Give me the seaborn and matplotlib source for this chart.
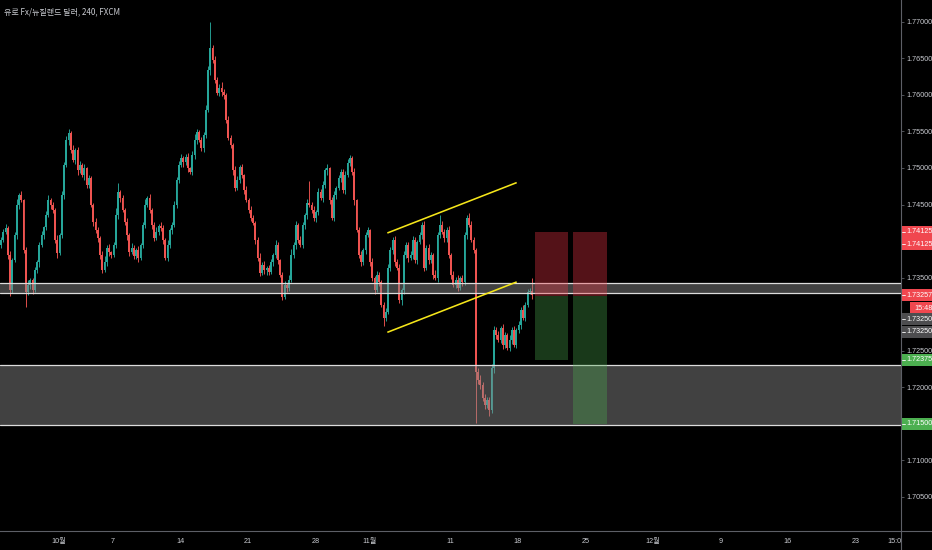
import numpy as np
import pandas as pd
import matplotlib
matplotlib.use("Agg")
import matplotlib.pyplot as plt
from matplotlib.patches import Rectangle
from matplotlib.lines import Line2D
import seaborn as sns

# ---------------- data ----------------
TITLE = "유로 Fx/뉴질랜드 달러, 240, FXCM"

first_open = 1.7395
closes = [
    1.7402, 1.7413, 1.7418, 1.7381, 1.7333, 1.7374, 1.7408, 1.7450, 1.7463, 1.7456,
    1.7388, 1.7330, 1.7340, 1.7347, 1.7333, 1.7360, 1.7371, 1.7395, 1.7408, 1.7419,
    1.7436, 1.7456, 1.7450, 1.7443, 1.7402, 1.7384, 1.7408, 1.7463, 1.7504, 1.7538,
    1.7548, 1.7525, 1.7511, 1.7525, 1.7497, 1.7504, 1.7490, 1.7500, 1.7477, 1.7486,
    1.7450, 1.7426, 1.7415, 1.7404, 1.7381, 1.7360, 1.7371, 1.7391, 1.7385, 1.7381,
    1.7395, 1.7436, 1.7467, 1.7459, 1.7443, 1.7426, 1.7408, 1.7385, 1.7391, 1.7380,
    1.7388, 1.7377, 1.7395, 1.7422, 1.7450, 1.7459, 1.7443, 1.7422, 1.7404, 1.7413,
    1.7421, 1.7418, 1.7402, 1.7377, 1.7395, 1.7415, 1.7422, 1.7450, 1.7484, 1.7504,
    1.7514, 1.7508, 1.7515, 1.7500, 1.7495, 1.7518, 1.7538, 1.7549, 1.7538, 1.7527,
    1.7545, 1.7580, 1.7634, 1.7664, 1.7648, 1.7621, 1.7603, 1.7610, 1.7604, 1.7600,
    1.7566, 1.7541, 1.7532, 1.7497, 1.7473, 1.7484, 1.7501, 1.7490, 1.7470, 1.7456,
    1.7443, 1.7432, 1.7425, 1.7402, 1.7377, 1.7356, 1.7367, 1.7360, 1.7363, 1.7358,
    1.7371, 1.7381, 1.7395, 1.7374, 1.7354, 1.7324, 1.7340, 1.7336, 1.7347, 1.7381,
    1.7395, 1.7422, 1.7402, 1.7395, 1.7422, 1.7436, 1.7452, 1.7450, 1.7443, 1.7432,
    1.7440, 1.7467, 1.7459, 1.7477, 1.7497, 1.7500, 1.7456, 1.7432, 1.7463, 1.7473,
    1.7486, 1.7495, 1.7470, 1.7490, 1.7507, 1.7514, 1.7495, 1.7456, 1.7415, 1.7381,
    1.7371, 1.7388, 1.7408, 1.7415, 1.7371, 1.7349, 1.7333, 1.7354, 1.7344, 1.7313,
    1.7295, 1.7303, 1.7363, 1.7388, 1.7402, 1.7371, 1.7363, 1.7319, 1.7333, 1.7381,
    1.7395, 1.7377, 1.7381, 1.7402, 1.7374, 1.7399, 1.7408, 1.7422, 1.7363, 1.7391,
    1.7374, 1.7381, 1.7354, 1.7349, 1.7408, 1.7422, 1.7413, 1.7404, 1.7415, 1.7381,
    1.7354, 1.7340, 1.7347, 1.7336, 1.7349, 1.7344, 1.7408, 1.7432, 1.7422, 1.7402,
    1.7388, 1.7221, 1.7210, 1.7203, 1.7185, 1.7176, 1.7183, 1.7169, 1.7226, 1.7278,
    1.7271, 1.7265, 1.7281, 1.7258, 1.7271, 1.7254, 1.7265, 1.7278, 1.7258, 1.7278,
    1.7285, 1.7306, 1.7295, 1.7313, 1.7330, 1.7332, 1.7326,
]
upper_wick_pips = [
    4, 3, 6, 2, 5, 3, 4, 8, 3, 5,
    2, 4, 6, 3, 2, 5, 3, 4, 6, 2,
    5, 7, 3, 4, 2, 6, 3, 5, 4, 6,
    5, 3, 7, 2, 4, 6, 3, 5, 2, 4,
    3, 2, 5, 4, 3, 6, 8, 3, 5, 2,
    4, 9, 12, 3, 4, 2, 5, 3, 6, 4,
    3, 5, 2, 4, 7, 3, 5, 2, 4, 6,
    3, 5, 4, 2, 6, 3, 4, 5, 3, 6,
    5, 3, 4, 6, 2, 5, 8, 4, 3, 5,
    4, 6, 5, 36, 4, 6, 3, 5, 8, 4,
    3, 5, 4, 2, 6, 5, 3, 4, 2, 6,
    3, 5, 4, 2, 3, 6, 4, 5, 3, 4,
    5, 3, 6, 4, 2, 4, 5, 3, 6, 8,
    4, 6, 3, 5, 4, 3, 6, 30, 4, 5,
    3, 6, 4, 5, 3, 5, 2, 4, 6, 3,
    5, 3, 4, 6, 5, 4, 3, 5, 2, 4,
    6, 3, 5, 4, 2, 6, 3, 5, 4, 3,
    4, 5, 6, 4, 3, 5, 4, 6, 3, 5,
    4, 3, 6, 5, 4, 3, 5, 4, 6, 3,
    5, 4, 3, 6, 4, 14, 5, 3, 4, 6,
    3, 5, 4, 6, 3, 5, 4, 3, 6, 5,
    4, 3, 5, 6, 4, 5, 3, 4, 6, 5,
    4, 6, 3, 5, 4, 3, 6, 4, 5, 3,
    5, 4, 6, 3, 5, 4, 17,
]
lower_wick_pips = [
    5, 3, 4, 6, 8, 4, 3, 5, 6, 3,
    5, 20, 4, 6, 5, 3, 4, 6, 3, 5,
    4, 3, 6, 4, 5, 7, 3, 4, 5, 3,
    6, 4, 3, 5, 7, 4, 3, 6, 4, 5,
    3, 5, 4, 6, 5, 4, 3, 5, 6, 4,
    3, 4, 6, 5, 3, 4, 6, 5, 3, 5,
    4, 6, 3, 5, 4, 3, 5, 6, 4, 3,
    5, 4, 6, 3, 5, 4, 6, 3, 5, 4,
    3, 6, 4, 5, 3, 4, 6, 5, 3, 4,
    5, 4, 3, 6, 4, 5, 3, 4, 6, 5,
    4, 3, 5, 6, 4, 3, 5, 4, 6, 3,
    5, 4, 3, 6, 5, 4, 3, 5, 6, 4,
    3, 5, 4, 6, 3, 5, 4, 6, 5, 3,
    4, 6, 5, 3, 4, 5, 6, 3, 4, 5,
    6, 4, 3, 5, 4, 6, 5, 3, 4, 6,
    3, 5, 4, 6, 3, 4, 5, 6, 3, 4,
    5, 4, 6, 3, 5, 4, 6, 3, 5, 4,
    12, 5, 3, 4, 6, 5, 3, 4, 6, 5,
    4, 6, 3, 5, 4, 6, 3, 5, 4, 3,
    5, 4, 6, 3, 5, 4, 3, 6, 5, 4,
    6, 3, 4, 5, 3, 6, 4, 5, 3, 4,
    4, 70, 6, 5, 4, 6, 5, 8, 4, 6,
    5, 3, 4, 6, 5, 3, 4, 6, 3, 5,
    4, 6, 3, 5, 4, 3, 5,
]
assert len(closes) == len(upper_wick_pips) == len(lower_wick_pips)

x_tick_pos = [25.75, 49.75, 79.75, 109.75, 139.75, 163.75, 199.75, 229.75,
              259.75, 289.75, 319.75, 349.75, 379.75, 397.0]
x_tick_labels = ["10월", "7", "14", "21", "28", "11월", "11", "18",
                 "25", "12월", "9", "16", "23", "15:0"]
# price-scale ticks (1.715, 1.730, 1.740 sit under the coloured labels)
y_ticks = [1.705, 1.710, 1.720, 1.725, 1.735,
           1.745, 1.750, 1.755, 1.760, 1.765, 1.770]

zone_small = (1.7329, 1.7342)
zone_big = (1.7148, 1.7230)

channel_x = [171.7, 229.2]
channel_upper = [1.7411, 1.7480]
channel_lower = [1.7275, 1.7344]

pos_entry = 1.73250
pos_stop = 1.74125
pos_targets = [1.72375, 1.71500]
pos_x = [(237.3, 252.1), (254.4, 269.3)]

# price labels on the scale
label_texts = ["1.74125", "1.74125", "1.73257", "15:48", "1.73250", "1.73250", "1.72375", "1.71500"]
label_prices = [1.74125, 1.74125, 1.73257, 1.73257, 1.73250, 1.73250, 1.72375, 1.71500]
label_kinds = ["red", "red", "red", "red", "gray", "gray", "green", "green"]
label_shift = [0, 12.3, 0, 13, 23.4, 35.8, 0, 0]
label_left = [902, 902, 902, 910, 902, 902, 902, 902]

# ---------------- style ----------------
BG = "#000000"
UP = "#26a69a"
DOWN = "#ef5350"
AXC = "#5d5f66"
TXT = "#c9cbd1"
KIND_COL = {"red": "#f0474f", "gray": "#4d4d4f", "green": "#4caf50"}
FS = 5.2

sns.set_theme(style="dark")
plt.rcParams["font.family"] = ["Liberation Sans", "Noto Sans CJK KR", "DejaVu Sans"]
plt.rcParams["axes.unicode_minus"] = False

W, H = 932, 550
fig = plt.figure(figsize=(W / 100, H / 100), dpi=100, facecolor=BG)
ax = fig.add_axes([0, (H - 531) / H, 901 / W, 531 / H])
ax.set_facecolor(BG)
ax.grid(False)

df = pd.DataFrame({"i": np.arange(len(closes)), "close": closes})
df["open"] = [first_open] + closes[:-1]
df["high"] = np.maximum(df["open"], df["close"]) + np.array(upper_wick_pips) * 1e-4
df["low"] = np.minimum(df["open"], df["close"]) - np.array(lower_wick_pips) * 1e-4
up = (df["close"] >= df["open"]).to_numpy()
cols = np.where(up, UP, DOWN)

ax.vlines(df["i"], df["low"], df["high"], colors=cols, linewidth=0.65, zorder=2)
body = (df["close"] - df["open"]).abs().clip(lower=0.00005)
ax.bar(df["i"], body, bottom=np.minimum(df["open"], df["close"]), width=0.8,
       color=cols, linewidth=0, zorder=3)

# zones
for lo, hi in [zone_small, zone_big]:
    ax.axhspan(lo, hi, color="#8a8a8a", alpha=0.48, lw=0, zorder=4)
    ax.axhline(lo, color="#dcdcdc", lw=0.9, zorder=5)
    ax.axhline(hi, color="#dcdcdc", lw=0.9, zorder=5)

# position boxes
for (x0, x1), tgt in zip(pos_x, pos_targets):
    ax.add_patch(Rectangle((x0, pos_entry), x1 - x0, pos_stop - pos_entry,
                           facecolor="#f23645", alpha=0.35, lw=0, zorder=6))
    ax.add_patch(Rectangle((x0, tgt), x1 - x0, pos_entry - tgt,
                           facecolor="#4caf50", alpha=0.33, lw=0, zorder=6))

# channel
ax.plot(channel_x, channel_upper, color="#f5e61a", lw=1.15, zorder=7, solid_capstyle="butt")
ax.plot(channel_x, channel_lower, color="#f5e61a", lw=1.15, zorder=7, solid_capstyle="butt")

ax.set_xlim(-0.45, 400)
ax.set_ylim(1.7003, 1.7730)

ax.yaxis.tick_right()
ax.set_yticks(y_ticks)
ax.set_yticklabels([f"{v:.5f}" for v in y_ticks])
ax.set_xticks(x_tick_pos)
ax.set_xticklabels(x_tick_labels)
ax.tick_params(axis="y", colors=AXC, labelcolor=TXT, length=2.2, width=0.6,
               pad=1.5, labelsize=FS, direction="out", right=True, left=False)
ax.tick_params(axis="x", colors=AXC, labelcolor=TXT, length=1.5, width=0.6,
               pad=3.5, labelsize=FS, direction="out")
for s in ["top", "left"]:
    ax.spines[s].set_visible(False)
for s in ["right", "bottom"]:
    ax.spines[s].set_color(AXC)
    ax.spines[s].set_linewidth(0.8)

fig.add_artist(Line2D([901 / W, 901 / W], [0, (H - 531) / H], color=AXC, lw=0.8))
fig.add_artist(Line2D([901 / W, 1], [(H - 531) / H, (H - 531) / H], color=AXC, lw=0.8))

fig.text(4 / W, 1 - 12 / H, TITLE, color=TXT, fontsize=5.8, va="center", ha="left",
         family=["Noto Sans CJK KR", "DejaVu Sans"])

# coloured price labels
fig.canvas.draw()
for txt, p, kind, dy, x0 in zip(label_texts, label_prices, label_kinds, label_shift, label_left):
    yc = ax.transData.transform((0, p))[1] - dy
    fig.add_artist(Rectangle((x0 / W, (yc - 6.1) / H), (W - x0) / W, 12.2 / H,
                             transform=fig.transFigure, facecolor=KIND_COL[kind],
                             lw=0, zorder=5))
    if x0 == 902:
        fig.add_artist(Line2D([902 / W, 904.5 / W], [yc / H, yc / H], color="white",
                              lw=0.6, zorder=6))
    fig.text((x0 + 4) / W, yc / H, txt, color="white", fontsize=FS,
             va="center", ha="left", zorder=7)

fig.savefig("out.png", dpi=100, facecolor=BG)
